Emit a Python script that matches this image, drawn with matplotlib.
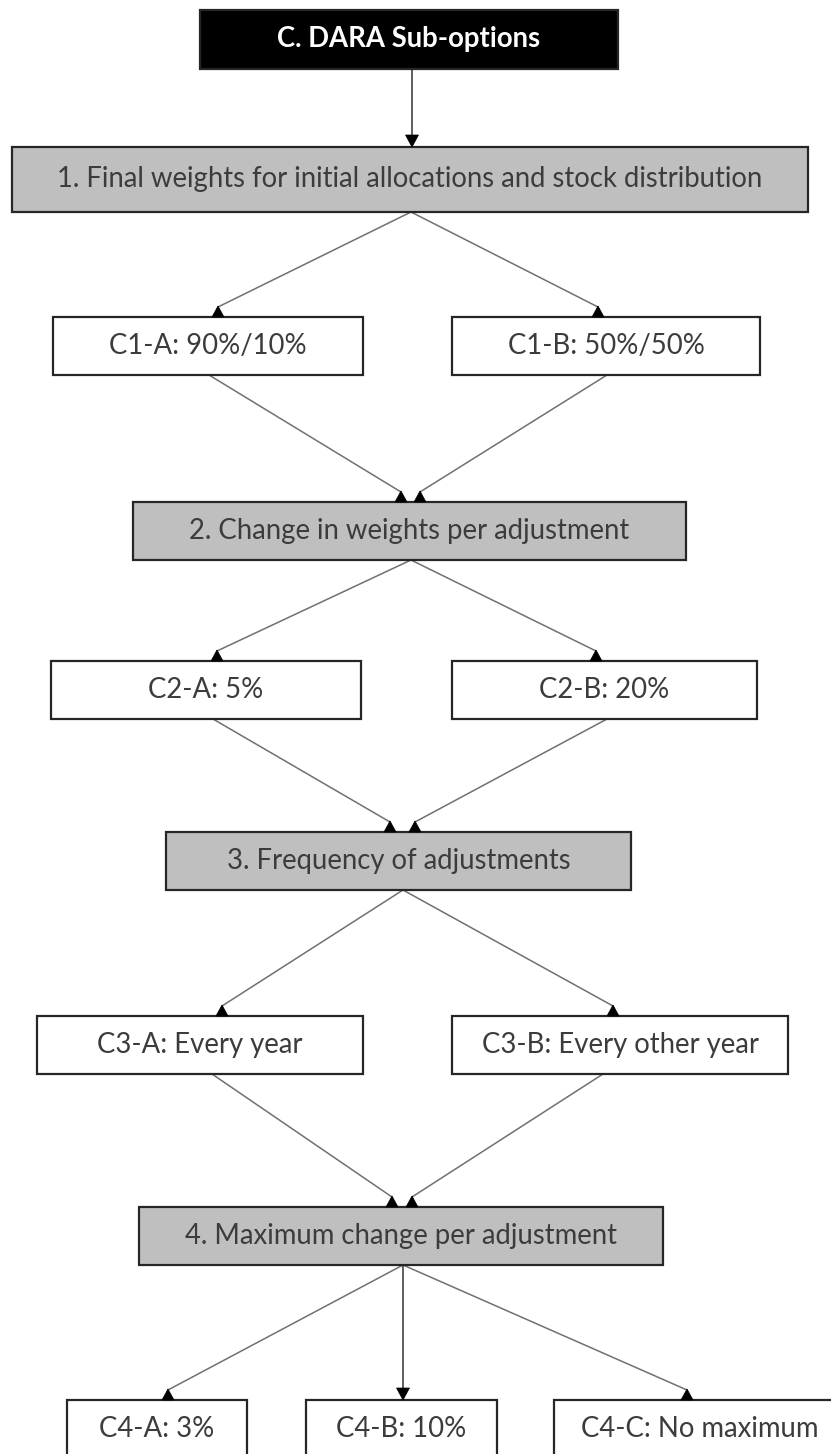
import matplotlib
matplotlib.use("Agg")
import matplotlib.pyplot as plt
from matplotlib.patches import Rectangle, Polygon

plt.rcParams["font.family"] = ["Lato", "DejaVu Sans"]

W, H = 831, 1454

# node labels
title = "C. DARA Sub-options"
steps = ["1. Final weights for initial allocations and stock distribution",
         "2. Change in weights per adjustment",
         "3. Frequency of adjustments",
         "4. Maximum change per adjustment"]
options = [["C1-A: 90%/10%", "C1-B: 50%/50%"],
           ["C2-A: 5%", "C2-B: 20%"],
           ["C3-A: Every year", "C3-B: Every other year"],
           ["C4-A: 3%", "C4-B: 10%", "C4-C: No maximum"]]

# layout in pixels (x0, x1, top)
title_box = (200, 618, 10)
step_boxes = [(12, 808, 147), (133, 686, 502), (166, 631, 832), (139, 663, 1207)]
option_boxes = [[(53, 363, 317), (452, 760, 317)],
                [(51, 361, 661), (452, 757, 661)],
                [(37, 363, 1016), (452, 788, 1016)],
                [(67, 247, 1400), (306, 497, 1400), (554, 845, 1400)]]
box_h = [59, 65, 58, 58, 58]
opt_h = 58

# connectors: (x at source bottom, x at target top)
down_edges = [[(411, 218), (411, 598)],
              [(411, 217), (411, 596)],
              [(403, 222), (403, 613)],
              [(403, 168), (403, 403), (403, 687)]]
up_edges = [[(209, 401), (607, 420)],
            [(213, 390), (607, 415)],
            [(212, 392), (603, 412)]]

TXT = "#3c3c3c"
GRAY = "#bfbfbf"
LINE = "#707070"
FS = 19.8

fig = plt.figure(figsize=(W / 100, H / 100), dpi=100)
ax = fig.add_axes([0, 0, 1, 1])
ax.set_xlim(0, W)
ax.set_ylim(H, 0)
ax.axis("off")


def box(x0, x1, top, h, label, face, color=TXT, weight="normal"):
    ax.add_patch(Rectangle((x0, top), x1 - x0, h, facecolor=face,
                           edgecolor="#262626", lw=1.6, zorder=2))
    ax.text((x0 + x1) / 2, top + h / 2, label, ha="center", va="center",
            fontsize=FS, color=color, weight=weight, zorder=3)


def head_up(x, y):
    # Word draws the diagonal heads as small upright triangles on the box edge
    ax.add_patch(Polygon([(x - 6, y), (x + 6, y), (x, y - 11)], closed=True,
                         facecolor="black", edgecolor="black", lw=0.5, zorder=4))


def head_down(x, y):
    ax.add_patch(Polygon([(x - 6.5, y - 12), (x + 6.5, y - 12), (x, y)], closed=True,
                         facecolor="black", edgecolor="black", lw=0.5, zorder=4))


def connect(x0, y0, x1, y1):
    if x0 == x1:
        ax.plot([x0, x1], [y0, y1 - 11], color="#333333", lw=1.1, zorder=1)
        head_down(x1, y1)
    else:
        ax.plot([x0, x1], [y0, y1 - 10], color=LINE, lw=1.1, zorder=1)
        head_up(x1, y1)


# title
tx0, tx1, ttop = title_box
box(tx0, tx1, ttop, box_h[0], title, "black", color="white", weight="bold")
connect(412, ttop + box_h[0], 412, step_boxes[0][2])

for i, (x0, x1, top) in enumerate(step_boxes):
    h = box_h[i + 1]
    box(x0, x1, top, h, steps[i], GRAY)
    bottom = top + h
    for (xs, xt), (ox0, ox1, otop), lab in zip(down_edges[i], option_boxes[i], options[i]):
        box(ox0, ox1, otop, opt_h, lab, "white")
        connect(xs, bottom, xt, otop)
    if i < len(up_edges):
        ntop = step_boxes[i + 1][2]
        otop = option_boxes[i][0][2]
        for xs, xt in up_edges[i]:
            connect(xs, otop + opt_h, xt, ntop)

fig.savefig("out.png", dpi=100, facecolor="white")
